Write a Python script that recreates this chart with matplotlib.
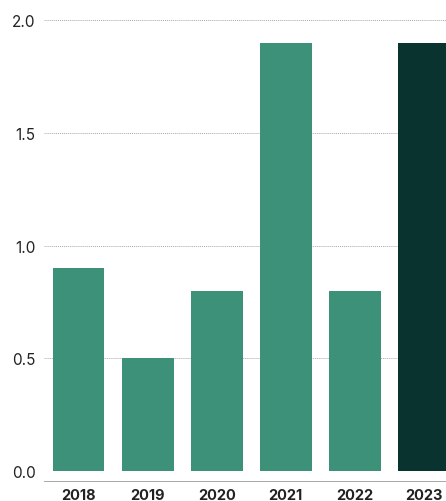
import matplotlib.pyplot as plt

years = ['2018', '2019', '2020', '2021', '2022', '2023']
values = [0.9, 0.5, 0.8, 1.9, 0.8, 1.9]
colors = ['#3d9179'] * 5 + ['#08332e']

plt.rcParams['font.family'] = ['Inter', 'DejaVu Sans']

fig = plt.figure(figsize=(4.46, 5.02), dpi=100)
ax = fig.add_axes([44 / 446, 1 - 482 / 502, 1 - 44 / 446, (482 - 21) / 502])

x = list(range(len(years)))
ax.bar(x, values, width=0.75, color=colors, zorder=2)

ax.set_xlim(-0.5, 5 + 22 / 69)
ax.set_ylim(-0.0443, 2.0)
ax.set_yticks([0.0, 0.5, 1.0, 1.5, 2.0])
ax.set_yticklabels(['0.0', '0.5', '1.0', '1.5', '2.0'], fontsize=11, color='#222222')
ax.set_xticks(x)
ax.set_xticklabels(years, fontsize=10.5, fontweight='bold', color='#222222')

# dotted grid lines, none at zero
for y in [0.5, 1.0, 1.5, 2.0]:
    ax.axhline(y, color='#a8a8a8', linestyle=(0, (1, 1)), linewidth=0.7, zorder=1)

for s in ['top', 'right', 'left']:
    ax.spines[s].set_visible(False)
ax.spines['bottom'].set_color('#a8a8a8')
ax.spines['bottom'].set_linestyle((0, (1, 1)))
ax.spines['bottom'].set_linewidth(0.7)
ax.tick_params(axis='both', length=0)
ax.tick_params(axis='y', pad=6)
ax.tick_params(axis='x', pad=5)

fig.savefig('out.png', dpi=100)
